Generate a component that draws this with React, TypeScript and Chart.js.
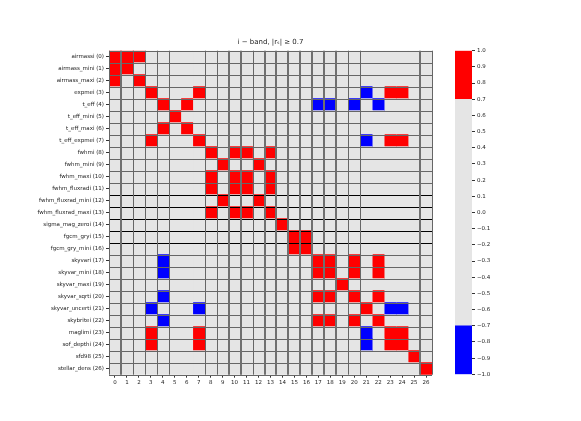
import React, { useEffect, useRef } from 'react';
import { Chart, registerables } from 'chart.js';

Chart.register(...registerables);

const title = 'i − band, |rₛ| ≥ 0.7';
const threshold = 0.7;

const rowLabels = [
  'airmassi (0)', 'airmass_mini (1)', 'airmass_maxi (2)', 'expmei (3)', 't_eff (4)',
  't_eff_mini (5)', 't_eff_maxi (6)', 't_eff_expmei (7)', 'fwhmi (8)', 'fwhm_mini (9)',
  'fwhm_maxi (10)', 'fwhm_fluxradi (11)', 'fwhm_fluxrad_mini (12)', 'fwhm_fluxrad_maxi (13)',
  'sigma_mag_zeroi (14)', 'fgcm_gryi (15)', 'fgcm_gry_mini (16)', 'skyvari (17)',
  'skyvar_mini (18)', 'skyvar_maxi (19)', 'skyvar_sqrti (20)', 'skyvar_uncerti (21)',
  'skybritei (22)', 'maglimi (23)', 'sof_depthi (24)', 'sfd98 (25)', 'stellar_dens (26)',
];
const colTicks = [0, 1, 2, 3, 4, 5, 6, 7, 8, 9, 10, 11, 12, 13, 14, 15, 16, 17, 18, 19, 20, 21, 22, 23, 24, 25, 26];

// strongly correlated pairs [i, j, r] (upper triangle), estimated
const strongPositive: [number, number, number][] = [
  [0, 1, 0.9], [0, 2, 0.85], [3, 7, 0.95], [3, 23, 0.8], [3, 24, 0.8], [4, 6, 0.9],
  [7, 23, 0.8], [7, 24, 0.8], [8, 10, 0.95], [8, 11, 0.9], [8, 13, 0.9], [9, 12, 0.85],
  [10, 11, 0.9], [10, 13, 0.9], [11, 13, 0.95], [15, 16, 0.9], [17, 18, 0.95],
  [17, 20, 0.95], [17, 22, 0.9], [18, 20, 0.95], [18, 22, 0.9], [20, 22, 0.9], [23, 24, 0.95],
];
const strongNegative: [number, number, number][] = [
  [3, 21, -0.75], [4, 17, -0.75], [4, 18, -0.75], [4, 20, -0.75], [4, 22, -0.72],
  [7, 21, -0.75], [21, 23, -0.8], [21, 24, -0.8],
];

// grid line styles at column boundaries
const thickColBounds = [1, 10, 11, 13, 14, 15, 16, 17, 18, 19, 26];
const missingColBounds = [6, 7, 22, 23, 24, 25];
const blackRowBounds = [12, 13, 14, 15, 16];

const colorbarBounds = [-1, -threshold, threshold, 1];
const colorbarColors = ['#0000ff', '#e5e5e5', '#ff0000'];

const N = rowLabels.length;
const corr: number[][] = rowLabels.map((_, i) => rowLabels.map((__, j) => (i === j ? 1 : 0)));
[...strongPositive, ...strongNegative].forEach(([i, j, r]) => {
  corr[i][j] = r;
  corr[j][i] = r;
});

const cellColor = (r: number) => (r >= threshold ? '#ff0000' : r <= -threshold ? '#0000ff' : '#e5e5e5');

const FONT = 'DejaVu Sans';

const gridPlugin = {
  id: 'cellGrid',
  afterDatasetsDraw(chart: any) {
    const { ctx, chartArea, scales } = chart;
    const xs = scales.x;
    const ys = scales.y;
    ctx.save();
    for (let k = 0; k <= N; k++) {
      const y = ys.getPixelForValue(k - 0.5);
      const yy = Math.round(y) + 0.5;
      ctx.beginPath();
      ctx.lineWidth = 1;
      ctx.strokeStyle = blackRowBounds.includes(k) ? '#000000' : '#666666';
      ctx.moveTo(chartArea.left, yy);
      ctx.lineTo(chartArea.right, yy);
      ctx.stroke();
    }
    for (let k = 0; k <= N; k++) {
      if (missingColBounds.includes(k)) continue;
      const x = xs.getPixelForValue(k - 0.5);
      const thick = thickColBounds.includes(k);
      ctx.beginPath();
      ctx.lineWidth = thick ? 2 : 1;
      ctx.strokeStyle = thick ? '#707070' : '#666666';
      const xx = thick ? Math.round(x) : Math.round(x) + 0.5;
      ctx.moveTo(xx, chartArea.top);
      ctx.lineTo(xx, chartArea.bottom);
      ctx.stroke();
    }
    ctx.restore();
  },
};

export default function App() {
  const mainRef = useRef<HTMLCanvasElement>(null);
  const cbRef = useRef<HTMLCanvasElement>(null);

  useEffect(() => {
    const datasets = colTicks.map((j) => ({
      label: String(j),
      data: rowLabels.map(() => [j - 0.5, j + 0.5]),
      backgroundColor: rowLabels.map((_, i) => cellColor(corr[i][j])),
      borderWidth: 0,
      barPercentage: 1,
      categoryPercentage: 1,
      grouped: false,
    }));
    const main = new Chart(mainRef.current!, {
      type: 'bar',
      data: { labels: rowLabels, datasets: datasets as any },
      options: {
        indexAxis: 'y',
        responsive: false,
        animation: false,
        layout: { padding: { top: 38.3, right: 8, left: 0, bottom: 0 } },
        plugins: {
          legend: { display: false },
          tooltip: { enabled: false },
          title: {
            display: true,
            text: title,
            fullSize: false,
            color: '#222',
            font: { family: FONT, size: 7, weight: 'normal' },
            padding: { top: 0, bottom: 4 },
          },
        },
        scales: {
          x: {
            type: 'linear',
            min: -0.5,
            max: 26.5,
            afterBuildTicks: (s: any) => {
              s.ticks = colTicks.map((v) => ({ value: v }));
            },
            afterFit: (s: any) => {
              s.height = 46.3;
            },
            ticks: {
              autoSkip: false,
              maxRotation: 0,
              padding: 2,
              color: '#222',
              font: { family: FONT, size: 5.5 },
              callback: (v: any) => String(v),
            },
            grid: { drawOnChartArea: false, tickLength: 3, color: '#333' },
            border: { display: false },
          },
          y: {
            type: 'category',
            offset: true,
            afterFit: (s: any) => {
              s.width = 109;
            },
            ticks: {
              autoSkip: false,
              padding: 2,
              color: '#222',
              font: { family: FONT, size: 5.5 },
            },
            grid: { drawOnChartArea: false, tickLength: 3, color: '#333', offset: false },
            border: { display: false },
          },
        },
      },
      plugins: [gridPlugin],
    });

    const cbDatasets = colorbarColors.map((c, k) => ({
      label: 'cb' + k,
      data: [[colorbarBounds[k], colorbarBounds[k + 1]]],
      backgroundColor: c,
      borderWidth: 0,
      barPercentage: 1,
      categoryPercentage: 1,
      grouped: false,
    }));
    const cb = new Chart(cbRef.current!, {
      type: 'bar',
      data: { labels: ['r'], datasets: cbDatasets as any },
      options: {
        responsive: false,
        animation: false,
        layout: { padding: { top: 50.7, bottom: 46.7, left: 15, right: 0 } },
        plugins: { legend: { display: false }, tooltip: { enabled: false } },
        scales: {
          x: { display: false },
          y: {
            position: 'right',
            min: -1,
            max: 1,
            afterFit: (s: any) => {
              s.width = 109;
            },
            ticks: {
              stepSize: 0.1,
              padding: 2,
              color: '#222',
              font: { family: FONT, size: 5.5 },
              callback: (v: any) => {
                const n = Number(v);
                if (Math.abs(n) < 1e-9) return '0.0';
                return n.toFixed(1).replace('-', '−');
              },
            },
            grid: { drawOnChartArea: false, tickLength: 3, color: '#333' },
            border: { display: false },
          },
        },
      },
    });

    return () => {
      main.destroy();
      cb.destroy();
    };
  }, []);

  return (
    <div style={{ position: 'absolute', left: 0, top: 0, width: 581, height: 421, background: '#fff' }}>
      <canvas ref={mainRef} width={440} height={421} style={{ position: 'absolute', left: 0, top: 0 }} />
      <canvas ref={cbRef} width={141} height={421} style={{ position: 'absolute', left: 440, top: 0 }} />
    </div>
  );
}
